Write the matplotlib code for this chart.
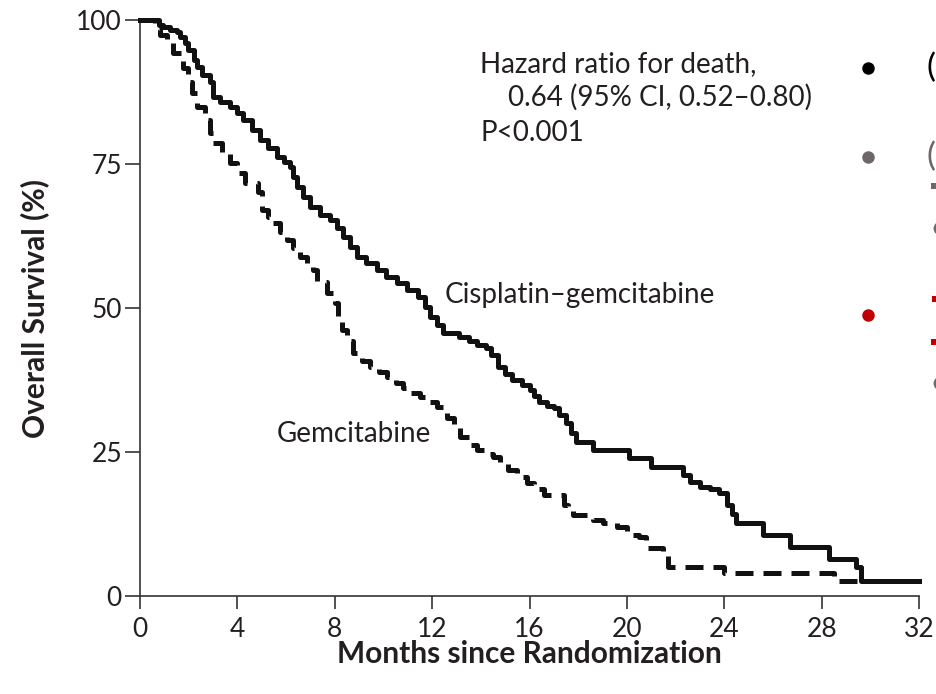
import matplotlib
matplotlib.use("Agg")
import matplotlib.pyplot as plt
from matplotlib.lines import Line2D
from matplotlib.patches import Rectangle

# ---------------- data ----------------
cg_months = [0, 0.8, 0.95, 1.23, 1.5, 1.64, 1.85, 1.97, 2.2, 2.34,
             2.55, 2.88, 3.0, 3.3, 3.7, 4.0, 4.23, 4.6, 4.93, 5.27,
             5.63, 5.9, 6.16, 6.3, 6.45, 6.7, 7.0, 7.4, 7.8, 8.1,
             8.34, 8.63, 8.9, 9.3, 9.74, 10.1, 10.56, 10.97, 11.4, 11.7,
             11.9, 12.2, 12.45, 13.1, 13.5, 13.85, 14.2, 14.4, 14.7, 15.0,
             15.3, 15.7, 16.0, 16.2, 16.4, 16.7, 17.0, 17.2, 17.5, 17.7,
             17.9, 18.6, 20.1, 21.0, 22.3, 22.6, 23.0, 23.4, 23.8, 24.1,
             24.3, 24.5, 25.6, 26.7, 28.3, 29.4, 29.6, 32]
cg_surv = [100, 99.1, 98.8, 98.2, 97.9, 97.0, 96.0, 94.8, 93.1, 91.8,
           90.5, 89.2, 86.6, 85.8, 84.9, 83.8, 82.6, 80.9, 79.2, 77.8,
           76.2, 75.3, 74.5, 72.7, 71.0, 69.3, 67.5, 66.1, 65.3, 63.9,
           62.3, 60.6, 58.9, 57.8, 56.6, 55.4, 54.3, 53.1, 51.9, 50.2,
           48.4, 47.0, 45.7, 45.0, 44.3, 43.6, 43.0, 41.8, 39.8, 38.6,
           37.5, 36.6, 35.8, 34.8, 33.7, 33.0, 32.6, 31.4, 30.0, 28.3,
           26.7, 25.3, 24.0, 22.4, 21.0, 19.8, 18.9, 18.5, 17.9, 15.8,
           14.2, 12.7, 10.6, 8.5, 6.4, 5.0, 2.6, 2.6]

gem_months = [0, 0.6, 0.82, 1.1, 1.36, 1.77, 1.97, 2.14, 2.34, 2.67,
              2.88, 3.0, 3.37, 3.7, 3.98, 4.31, 4.85, 5.01, 5.26, 5.46,
              5.75, 6.04, 6.29, 6.57, 6.86, 7.11, 7.27, 7.68, 8.0, 8.15,
              8.3, 8.5, 8.75, 9.1, 9.45, 9.8, 10.15, 10.5, 10.8, 11.15,
              11.5, 11.85, 12.2, 12.6, 12.9, 13.15, 13.5, 13.85, 14.2, 14.5,
              14.8, 15.1, 15.5, 15.9, 16.2, 16.6, 17.4, 17.6, 17.8, 18.6,
              19.0, 19.6, 20.0, 20.5, 20.8, 21.5, 21.7, 24.0, 28.5, 30.0]
gem_surv = [100, 98.5, 97.4, 96.2, 94.3, 91.7, 89.2, 87.3, 84.9, 82.6,
            80.4, 78.6, 76.9, 75.2, 73.4, 71.7, 70.1, 67.0, 65.8, 64.8,
            63.2, 61.8, 60.4, 58.9, 57.8, 56.6, 54.5, 52.6, 50.9, 48.5,
            46.2, 44.2, 42.2, 40.8, 39.8, 38.9, 38.0, 37.0, 36.1, 35.2,
            34.5, 33.6, 32.8, 30.9, 29.2, 27.6, 26.2, 25.3, 24.6, 24.1,
            23.0, 21.9, 20.7, 19.6, 18.5, 17.5, 15.8, 14.9, 14.1, 13.2,
            12.7, 12.0, 10.6, 10.2, 8.3, 7.5, 5.0, 4.0, 2.6, 2.6]

x_ticks = [0, 4, 8, 12, 16, 20, 24, 28, 32]
y_ticks = [0, 25, 50, 75, 100]

label_cg = "Cisplatin\u2013gemcitabine"
label_gem = "Gemcitabine"
hr_lines = ["Hazard ratio for death,", "0.64 (95% CI, 0.52\u20130.80)", "P<0.001"]
x_title = "Months since Randomization"
y_title = "Overall Survival (%)"

# ---------------- figure ----------------
W, H = 936, 694
fig = plt.figure(figsize=(W / 100, H / 100), dpi=100)
fig.patch.set_facecolor("white")

FONT = "Lato"
TXT = "#231f20"

ax = fig.add_axes([140 / W, 1 - 596 / H, (919 - 140) / W, (596 - 20) / H])
ax.set_xlim(0, 32)
ax.set_ylim(0, 100)

ax.step(gem_months, gem_surv, where="post", color="#111111", lw=3.6,
        linestyle=(0, (3.6, 2.0)), clip_on=False, zorder=3)
ax.step(cg_months, cg_surv, where="post", color="#111111", lw=3.6,
        clip_on=False, zorder=4)

for s in ["top", "right"]:
    ax.spines[s].set_visible(False)
for s in ["left", "bottom"]:
    ax.spines[s].set_color("#333333")
    ax.spines[s].set_linewidth(1.2)

ax.set_xticks(x_ticks)
ax.set_yticks(y_ticks)
ax.tick_params(axis="y", direction="out", length=11, width=1.2, color="#333333",
               pad=2, labelsize=19, labelcolor=TXT)
ax.tick_params(axis="x", direction="out", length=9, width=1.2, color="#333333",
               pad=6, labelsize=19, labelcolor=TXT)
for lab in ax.get_xticklabels() + ax.get_yticklabels():
    lab.set_fontfamily(FONT)

# annotations in data coordinates
AF = 20
ax.text(13.97, 91.0, hr_lines[0], fontsize=AF, family=FONT, color=TXT, va="baseline")
ax.text(15.12, 85.1, hr_lines[1], fontsize=AF, family=FONT, color=TXT, va="baseline")
ax.text(13.97, 79.0, hr_lines[2], fontsize=AF, family=FONT, color=TXT, va="baseline")
ax.text(12.53, 50.9, label_cg, fontsize=AF, family=FONT, color=TXT, va="baseline")
ax.text(5.63, 26.7, label_gem, fontsize=AF, family=FONT, color=TXT, va="baseline")

# axis titles
fig.text(529.5 / W, 1 - 654 / H, x_title, fontsize=21.5, family=FONT,
         fontweight="bold", color=TXT, ha="center", va="center")
fig.text(35 / W, 1 - 308 / H, y_title, fontsize=21.5, family=FONT,
         fontweight="bold", color=TXT, ha="center", va="center", rotation=90)

# cropped slide bullets on the right edge
def fdot(x, y, color, size):
    fig.add_artist(Line2D([x / W], [1 - y / H], marker="o", markersize=size,
                          color=color, markeredgewidth=0,
                          transform=fig.transFigure))

fdot(868, 68, "#000000", 9)
fdot(868, 157, "#6f6767", 9)
fdot(868, 315, "#c00000", 9)
fdot(940, 228, "#6f6a6a", 10)
fdot(940, 383, "#6f6a6a", 10)
fig.text(926 / W, 1 - 68 / H, "(", fontsize=24, family=FONT, color="#000000",
         va="center", ha="left")
fig.text(926 / W, 1 - 157 / H, "(", fontsize=24, family=FONT, color="#6f6767",
         va="center", ha="left")
for (x, y, c) in [(931, 183, "#6f6767"), (932, 296, "#c00000"), (931, 339, "#c00000")]:
    fig.add_artist(Rectangle((x / W, 1 - (y + 6) / H), 6 / W, 6 / H,
                             transform=fig.transFigure, color=c, lw=0))

fig.savefig("out.png", dpi=100, facecolor="white")
